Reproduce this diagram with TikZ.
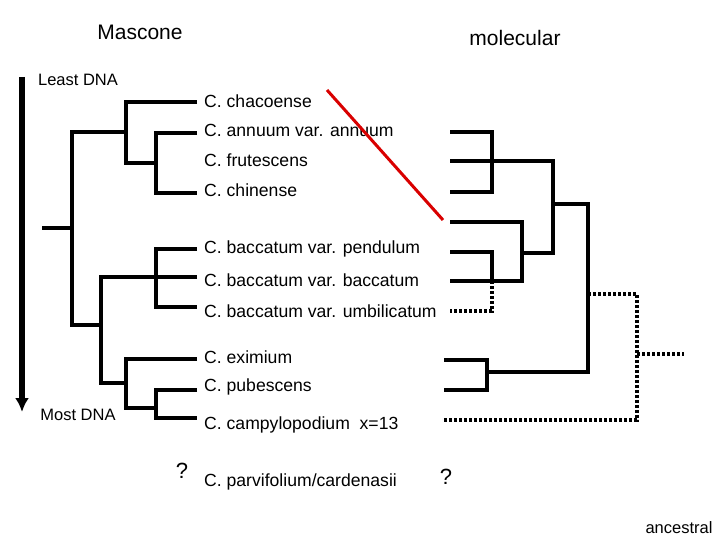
\documentclass[tikz,border=0pt]{standalone}
\usepackage{fontspec}
\setmainfont{Liberation Sans}
\usetikzlibrary{arrows.meta}
\begin{document}
\begin{tikzpicture}[x=1pt,y=-1pt,
  br/.style={line width=3.4pt},
  dt/.style={line width=3.4pt,dash pattern=on 3pt off 2pt},
  lab/.style={anchor=west,inner sep=0pt,font=\fontsize{17.6}{20}\selectfont}]
\useasboundingbox (0,0) rectangle (720,540);
% titles
\node[font=\fontsize{21}{24}\selectfont] (t1) at (140,32) {Mascone};
\node[font=\fontsize{21}{24}\selectfont] (t2) at (515,38) {molecular};
\node[font=\fontsize{16.5}{19}\selectfont] (ld) at (78,80) {Least DNA};
\node[font=\fontsize{16.5}{19}\selectfont] (md) at (78,415) {Most DNA};
\draw[line width=5.5pt,-{Latex[length=14pt,width=14pt]}] (22,77) -- (22,412);
% labels
\foreach \n/\y/\t in {a/101/{C. chacoense},b/130/{C. annuum var. annuum},c/160/{C. frutescens},d/190/{C. chinense},e/249/{C. baccatum var. pendulum},f/280/{C. baccatum var. baccatum},g/311/{C. baccatum var. umbilicatum},h/357/{C. eximium},i/387/{C. pubescens},j/425/{C. campylopodium\ \ x=13},k/482/{C. parvifolium/cardenasii}}
  \node[lab] (\n) at (204,\y) {\t};
\node[font=\fontsize{22}{24}\selectfont] (q1) at (182,471) {?};
\node[font=\fontsize{22}{24}\selectfont] (q2) at (446,477) {?};
\node[font=\fontsize{16.5}{19}\selectfont,anchor=south east] (an) at (716,537) {ancestral};
% left tree
\draw[br] (197,102) -| (126,163) -- (156,163);
\draw[br] (197,133) -| (156,193) -- (197,193);
\draw[br] (126,132) -| (72,325) -- (101,325);
\draw[br] (42,228) -- (72,228);
\draw[br] (197,249) -| (156,307) -- (197,307);
\draw[br] (197,277) -- (101,277) -- (101,383) -- (126,383);
\draw[br] (197,359) -| (126,408) -- (156,408);
\draw[br] (197,390) -| (156,418) -- (197,418);
% right tree
\draw[br] (450,132) -| (492,192) -- (450,192);
\draw[br] (450,161) -- (553,161) -- (553,253) -- (522,253);
\draw[br] (450,222) -| (522,281) -- (450,281);
\draw[br] (450,252) -| (492,281);
\draw[dt] (492,281) |- (450,311);
\draw[br] (553,204) -| (588,372) -- (487,372);
\draw[br] (444,360) -| (487,390) -- (444,390);
\draw[dt] (588,294) -| (637,420) -- (444,420);
\draw[dt] (637,354) -- (684,354);
% red line
\draw[red!85!black,line width=3pt] (327,90) -- (443,220);
\end{tikzpicture}
\end{document}
